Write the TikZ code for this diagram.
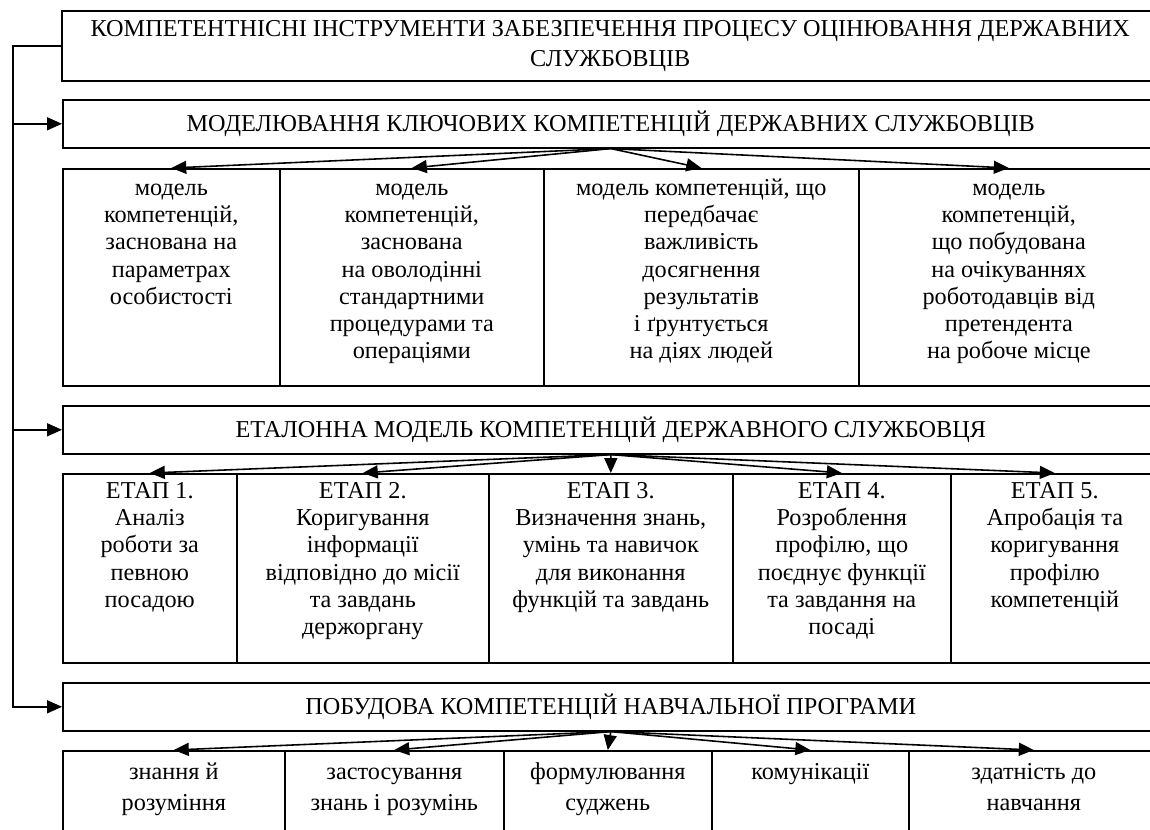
\documentclass[tikz,border=0pt]{standalone}
\usepackage{fontspec}
\setmainfont{Liberation Serif}
\usetikzlibrary{arrows.meta}

\tikzset{
  box/.style={draw, line width=0.9pt, anchor=north west, inner sep=0pt, align=center},
  txt/.style={anchor=north, align=center, inner sep=0pt},
  arr/.style={line width=0.9pt, -{Triangle[length=3mm,width=2.6mm]}}
}

\begin{document}
\begin{tikzpicture}[x=0.2mm, y=-0.2mm, font=\fontsize{13.8}{15.5}\selectfont]
    \useasboundingbox (0,0) rectangle (1150,829);
    \clip (0,0) rectangle (1150,829);
    \node[box, minimum width=219.4mm, minimum height=14mm] (top) at (61,10) {КОМПЕТЕНТНІСНІ ІНСТРУМЕНТИ ЗАБЕЗПЕЧЕННЯ ПРОЦЕСУ ОЦІНЮВАННЯ ДЕРЖАВНИХ\\[0.6mm]СЛУЖБОВЦІВ};
    \node[box, minimum width=219.2mm, minimum height=9.6mm] (mod) at (62,99) {МОДЕЛЮВАННЯ КЛЮЧОВИХ КОМПЕТЕНЦІЙ ДЕРЖАВНИХ СЛУЖБОВЦІВ};
    \node[box, minimum width=219.2mm, minimum height=9.6mm] (etl) at (62,405) {ЕТАЛОННА МОДЕЛЬ КОМПЕТЕНЦІЙ ДЕРЖАВНОГО СЛУЖБОВЦЯ};
    \node[box, minimum width=219.2mm, minimum height=9.6mm] (pob) at (62,682) {ПОБУДОВА КОМПЕТЕНЦІЙ НАВЧАЛЬНОЇ ПРОГРАМИ};
    \coordinate (bus) at (13,0);
    \draw[arr] (top.west) -- (bus |- top.west) -- (bus |- pob.west) -- (pob.west);
    \draw[arr] (bus |- mod.west) -- (mod.west);
    \draw[arr] (bus |- etl.west) -- (etl.west);
    \node[box, minimum width=43.4mm, minimum height=43.4mm] (m1) at (62,168) {};
    \node[box, minimum width=52.8mm, minimum height=43.4mm] (m2) at (279,168) {};
    \node[box, minimum width=63mm, minimum height=43.4mm] (m3) at (543,168) {};
    \node[box, minimum width=60mm, minimum height=43.4mm] (m4) at (858,168) {};
    \node[txt] (mt1) at ([yshift=-1.6mm]m1.north) {\strut модель\\компетенцій,\\заснована на\\параметрах\\особистості};
    \node[txt] (mt2) at ([yshift=-1.6mm]m2.north) {\strut модель\\компетенцій,\\заснована\\на оволодінні\\стандартними\\процедурами та\\операціями};
    \node[txt] (mt3) at ([yshift=-1.6mm]m3.north) {\strut модель компетенцій, що\\передбачає\\важливість\\досягнення\\результатів\\і ґрунтується\\на діях людей};
    \node[txt] (mt4) at ([yshift=-1.6mm]m4.north) {\strut модель\\компетенцій,\\що побудована\\на очікуваннях\\роботодавців від\\претендента\\на робоче місце};
    \draw[arr] (mod.south) -- (m1.north);
    \draw[arr] (mod.south) -- (m2.north);
    \draw[arr] (mod.south) -- (m3.north);
    \draw[arr] (mod.south) -- (m4.north);
    \node[box, minimum width=34.8mm, minimum height=37.8mm] (e1) at (62,473) {};
    \node[box, minimum width=50.4mm, minimum height=37.8mm] (e2) at (236,473) {};
    \node[box, minimum width=48.8mm, minimum height=37.8mm] (e3) at (488,473) {};
    \node[box, minimum width=43.6mm, minimum height=37.8mm] (e4) at (732,473) {};
    \node[box, minimum width=41.6mm, minimum height=37.8mm] (e5) at (950,473) {};
    \node[txt] (et1) at ([yshift=-1.2mm]e1.north) {\strut ЕТАП 1.\\Аналіз\\роботи за\\певною\\посадою};
    \node[txt] (et2) at ([yshift=-1.2mm]e2.north) {\strut ЕТАП 2.\\Коригування\\інформації\\відповідно до місії\\та завдань\\держоргану};
    \node[txt] (et3) at ([yshift=-1.2mm]e3.north) {\strut ЕТАП 3.\\Визначення знань,\\умінь та навичок\\для виконання\\функцій та завдань};
    \node[txt] (et4) at ([yshift=-1.2mm]e4.north) {\strut ЕТАП 4.\\Розроблення\\профілю, що\\поєднує функції\\та завдання на\\посаді};
    \node[txt] (et5) at ([yshift=-1.2mm]e5.north) {\strut ЕТАП 5.\\Апробація та\\коригування\\профілю\\компетенцій};
    \draw[arr] (etl.south) -- (e1.north);
    \draw[arr] (etl.south) -- (e2.north);
    \draw[arr] (etl.south) -- (e3.north);
    \draw[arr] (etl.south) -- (e4.north);
    \draw[arr] (etl.south) -- (e5.north);
    \node[box, minimum width=44.4mm, minimum height=20mm] (p1) at (62,750) {};
    \node[box, minimum width=43.8mm, minimum height=20mm] (p2) at (284,750) {};
    \node[box, minimum width=41.6mm, minimum height=20mm] (p3) at (503,750) {};
    \node[box, minimum width=39.4mm, minimum height=20mm] (p4) at (711,750) {};
    \node[box, minimum width=50mm, minimum height=20mm] (p5) at (908,750) {};
    \node[txt] (pt1) at ([yshift=-2mm]p1.north) {\strut знання й\\[0.8mm]розуміння};
    \node[txt] (pt2) at ([yshift=-2mm]p2.north) {\strut застосування\\[0.8mm]знань і розумінь};
    \node[txt] (pt3) at ([yshift=-2mm]p3.north) {\strut формулювання\\[0.8mm]суджень};
    \node[txt] (pt4) at ([yshift=-2mm]p4.north) {\strut комунікації};
    \node[txt] (pt5) at ([yshift=-2mm]p5.north) {\strut здатність до\\[0.8mm]навчання};
    \draw[arr] (pob.south) -- (p1.north);
    \draw[arr] (pob.south) -- (p2.north);
    \draw[arr] (pob.south) -- (p3.north);
    \draw[arr] (pob.south) -- (p4.north);
    \draw[arr] (pob.south) -- (p5.north);
\end{tikzpicture}
\end{document}
